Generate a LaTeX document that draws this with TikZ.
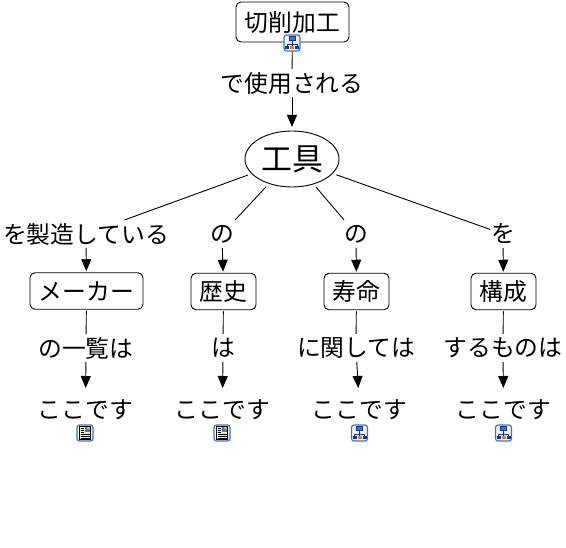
\documentclass[tikz,border=0pt]{standalone}
\usepackage{fontspec}
\setmainfont{Noto Sans CJK JP}
\usetikzlibrary{arrows.meta,shapes.geometric}
\definecolor{iconblue}{RGB}{60,120,200}
\definecolor{iconfill}{RGB}{235,243,253}
\definecolor{icondark}{RGB}{30,50,120}
\definecolor{iconpage}{RGB}{250,240,180}
\tikzset{
    concept/.style={draw,line width=.9pt,rounded corners=5pt,fill=white,font=\fontsize{23.8}{23.8}\selectfont,inner sep=0pt,minimum height=36.5pt,outer sep=1.5pt},
    phrase/.style={font=\fontsize{23.8}{23.8}\selectfont,inner sep=0pt,minimum height=26pt,outer sep=1pt},
    leaftext/.style={phrase,outer ysep=9pt},
    linkline/.style={line width=.9pt},
    arrowline/.style={linkline,-{Triangle[length=12pt,width=10pt]}},
    iconframe/.style={draw=iconblue,line width=1.2pt,rounded corners=2.5pt,fill=iconfill},
    treeicon/.pic={
        % Frame
        \draw[iconframe] (-8,-8) rectangle (8,8);
        % Branches
        \draw[line width=.7pt,icondark] (0,-3) -- (0,4) (-5,1) -- (5,1) (-5,1) -- (-5,4) (5,1) -- (5,4);
        \fill[iconblue,draw=icondark,line width=.5pt] (-3,-6.5) rectangle (3,-2.5);
        \fill[icondark] (-7,3) rectangle (-3,6.5);
        \fill[orange!60!brown] (-2,3) rectangle (2,6.5);
        \fill[icondark] (3,3) rectangle (7,6.5);
    },
    docicon/.pic={
        % Frame
        \draw[iconframe] (-8,-8) rectangle (8,8);
        % Page
        \fill[iconpage,draw=black,line width=.7pt] (-5.5,-6.5) rectangle (5.5,6.5);
        \fill[iconblue!70!gray] (0,-6) rectangle (5,-1);
        \fill[orange!70] (2,-5.5) rectangle (4.5,-3.5);
        \foreach \y/\e in {-4.5/-1,-2.5/-1,-.5/-1,1.5/4.5,3.5/4.5,5.3/4.5}{
          \draw[line width=.7pt] (-4.5,\y) -- (\e,\y);
        }
    }
}
\begin{document}
\begin{tikzpicture}[x=1pt,y=-1pt]
    \useasboundingbox (0,0) rectangle (566,548);
    % Top of the map
    \node[concept,minimum width=113pt,minimum height=40pt] (kako) at (292.5,22) {切削加工};
    \node[phrase] (shiyo) at (292,83) {で使用される};
    \node[draw,line width=.9pt,ellipse,inner sep=0pt,minimum width=94pt,minimum height=56pt,outer sep=4pt,font=\fontsize{31}{31}\selectfont] (kogu) at (292,159) {工具};
    \draw[linkline] (kako) -- (shiyo);
    \draw[arrowline] (shiyo) -- (kogu);
    % Four branches
    \node[phrase] (seizo) at (86,234) {を製造している};
    \node[phrase] (no1) at (222,234) {の};
    \node[phrase] (no2) at (356,234) {の};
    \node[phrase] (wo) at (503,234) {を};
    \node[concept,minimum width=113pt] (maker) at (86.5,291) {メーカー};
    \node[concept,minimum width=65pt] (rekishi) at (223.5,291.5) {歴史};
    \node[concept,minimum width=65pt] (jumyo) at (356.5,291.5) {寿命};
    \node[concept,minimum width=65pt] (kosei) at (503.5,291.5) {構成};
    \node[phrase] (ichiran) at (86,348) {の一覧は};
    \node[phrase] (ha) at (223,348) {は};
    \node[phrase] (kanshite) at (356,348) {に関しては};
    \node[phrase] (mono) at (503,348) {するものは};
    \node[leaftext] (kokoA) at (85.5,410) {ここです};
    \node[leaftext] (kokoB) at (222.5,410) {ここです};
    \node[leaftext] (kokoC) at (359.5,410) {ここです};
    \node[leaftext] (kokoD) at (503.5,410) {ここです};
    \foreach \l/\b/\m/\t in {seizo/maker/ichiran/kokoA,no1/rekishi/ha/kokoB,no2/jumyo/kanshite/kokoC,wo/kosei/mono/kokoD}{
      \draw[linkline] (kogu) -- (\l);
      \draw[arrowline] (\l) -- (\b);
      \draw[linkline] (\b) -- (\m);
      \draw[arrowline] (\m) -- (\t);
    }
    % Icons
    \pic at (292,43) {treeicon};
    \pic at (85,433) {docicon};
    \pic at (222,433) {docicon};
    \pic at (359.5,433) {treeicon};
    \pic at (503.5,433) {treeicon};
\end{tikzpicture}
\end{document}
